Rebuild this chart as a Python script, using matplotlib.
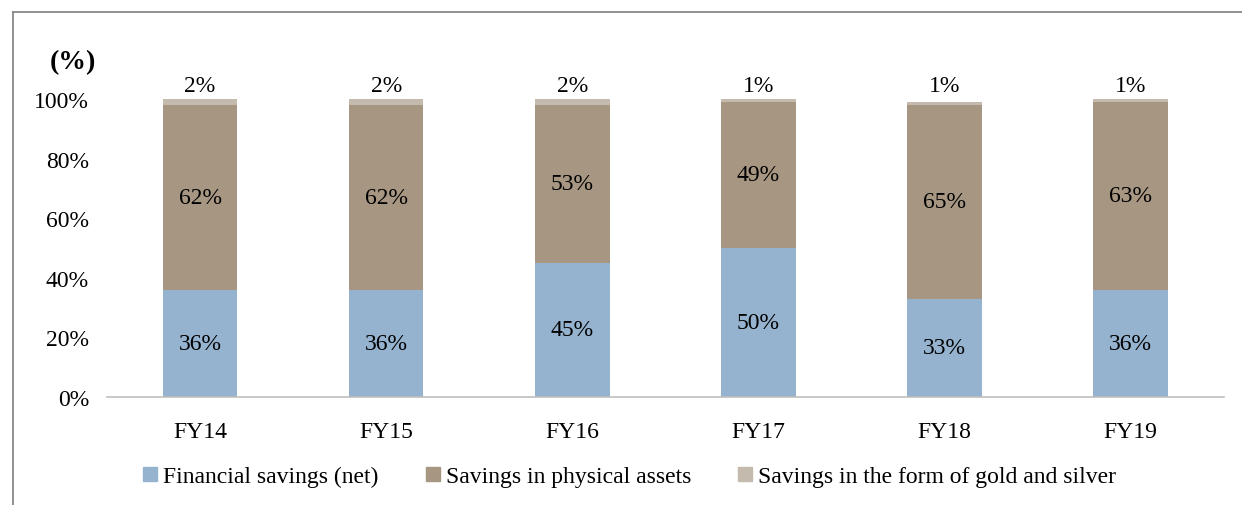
import numpy as np
import matplotlib.pyplot as plt
from matplotlib.lines import Line2D

plt.rcParams['font.family'] = ['Liberation Serif', 'DejaVu Serif']

# Dados
anos = ["FY14", "FY15", "FY16", "FY17", "FY18", "FY19"]
financeira = [36, 36, 45, 50, 33, 36]
fisica = [62, 62, 53, 49, 65, 63]
ouro = [2, 2, 2, 1, 1, 1]
series_nomes = ["Financial savings (net)", "Savings in physical assets",
                "Savings in the form of gold and silver"]
cores = ["#95B3CF", "#A69682", "#C4BAAD"]

fs = 17

fig = plt.figure(figsize=(12.42, 5.06), dpi=100)
ax = fig.add_axes([0.0862, 0.2134, 0.899, 0.589])

x = np.arange(len(anos))
larg = 0.4
fin = np.array(financeira)
fis = np.array(fisica)
ou = np.array(ouro)

ax.bar(x, fin, larg, color=cores[0])
ax.bar(x, fis, larg, bottom=fin, color=cores[1])
ax.bar(x, ou, larg, bottom=fin + fis, color=cores[2])

for i in range(len(anos)):
    ax.text(x[i], fin[i] / 2, f"{financeira[i]}%", ha="center", va="center", fontsize=fs)
    ax.text(x[i], fin[i] + fis[i] / 2, f"{fisica[i]}%", ha="center", va="center", fontsize=fs)
    ax.text(x[i], 101, f"{ouro[i]}%", ha="center", va="bottom", fontsize=fs)

ax.set_xlim(-0.5, len(anos) - 0.5)
ax.set_ylim(0, 100)
ax.set_yticks(range(0, 101, 20))
ax.set_yticklabels([f"{v}%" for v in range(0, 101, 20)], fontsize=fs)
ax.set_xticks(x)
ax.set_xticklabels(anos, fontsize=fs)
ax.tick_params(length=0)
ax.tick_params(axis="x", pad=17)
ax.tick_params(axis="y", pad=13)
for s in ["top", "right", "left"]:
    ax.spines[s].set_visible(False)
ax.spines["bottom"].set_color("#BFBFBF")
ax.spines["bottom"].set_linewidth(1.2)

fig.text(0.04, 0.877, "(%)", fontsize=20, fontweight="bold", va="center")

handles = [Line2D([], [], marker="s", linestyle="none", markersize=10,
                  markerfacecolor=c, markeredgecolor=c) for c in cores]
fig.legend(handles, series_nomes, loc="center", bbox_to_anchor=(0.505, 0.057),
           ncol=3, frameon=False, fontsize=fs, handletextpad=0.05,
           columnspacing=1.8, handlelength=1.0)

# moldura (topo e esquerda)
fig.add_artist(Line2D([0.0105, 1.0], [0.974, 0.974], color="#7F7F7F", lw=1.2))
fig.add_artist(Line2D([0.0105, 0.0105], [0.0, 0.974], color="#7F7F7F", lw=1.2))

fig.savefig("out.png", dpi=100)
